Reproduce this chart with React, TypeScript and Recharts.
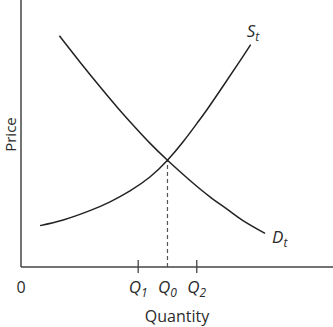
import { Label, Line, LineChart, ReferenceLine, XAxis, YAxis } from 'recharts';

const demandQ = [1.31, 2.01, 2.81, 3.32, 3.83, 4.4, 5.0, 5.77, 6.45, 7.08, 7.59, 8.33];
const demandP = [8.66, 7.68, 6.6, 5.94, 5.31, 4.64, 4.0, 3.24, 2.63, 2.13, 1.73, 1.26];

const supplyQ = [0.65, 1.44, 2.35, 3.04, 3.72, 4.4, 5.0, 5.54, 6.0, 6.34, 6.9, 7.47, 7.84];
const supplyP = [1.55, 1.76, 2.11, 2.44, 2.85, 3.37, 4.0, 4.7, 5.37, 5.88, 6.78, 7.71, 8.33];

const qTicks = [0, 4, 5, 6];
const qTickNames = ['0', 'Q', 'Q', 'Q'];
const qTickSubs = ['', '1', '0', '2'];
const qTickMarks = [false, true, false, true];

const equilibrium = { q: 5.0, p: 4.0 };

const demand = demandQ.map((q, i) => ({ q, p: demandP[i] }));
const supply = supplyQ.map((q, i) => ({ q, p: supplyP[i] }));

const FONT = '"Open Sans", "Liberation Sans", sans-serif';
const INK = '#2b2b2b';

function QuantityTick(props: any) {
  const { x, y, index } = props;
  const name = qTickNames[index];
  const sub = qTickSubs[index];
  return (
    <g>
      {qTickMarks[index] && <line x1={x} x2={x} y1={y - 7} y2={y + 6} stroke="#444" strokeWidth={1.3} />}
      <text
        x={x}
        y={y + 26}
        textAnchor="middle"
        fontFamily={FONT}
        fontSize={sub ? 17 : 16}
        fill={INK}
        fontStyle={sub ? 'italic' : 'normal'}
      >
        {name}
        {sub && (
          <tspan fontSize={12} dy={4}>
            {sub}
          </tspan>
        )}
      </text>
    </g>
  );
}

function curveLabel(data: { q: number; p: number }[], name: string, dx: number, dy: number) {
  return (props: any) => {
    if (props.index !== data.length - 1) return null;
    return (
      <text x={props.x + dx} y={props.y + dy} fontFamily={FONT} fontSize={17} fontStyle="italic" fill={INK}>
        {name}
        <tspan fontSize={12} dy={4}>
          t
        </tspan>
      </text>
    );
  };
}

export default function App() {
  return (
    <div style={{ position: 'fixed', left: 0, top: 0, background: '#fff' }}>
      <LineChart width={333} height={327} margin={{ top: 0, right: 0, bottom: 0, left: 0 }}>
        <XAxis
          type="number"
          dataKey="q"
          domain={[0, 10.65]}
          ticks={qTicks}
          tick={<QuantityTick />}
          tickLine={false}
          tickSize={0}
          tickMargin={0}
          height={60}
          axisLine={{ stroke: '#444', strokeWidth: 1.5 }}
          allowDataOverflow
        >
          <Label
            content={({ viewBox }: any) => (
              <text
                x={viewBox.x + viewBox.width / 2}
                y={viewBox.y + 55}
                textAnchor="middle"
                fontFamily={FONT}
                fontSize={16}
                fill={INK}
              >
                Quantity
              </text>
            )}
          />
        </XAxis>
        <YAxis
          type="number"
          dataKey="p"
          domain={[0, 10]}
          width={21}
          tick={false}
          tickLine={false}
          axisLine={{ stroke: '#444', strokeWidth: 1.5 }}
          allowDataOverflow
        >
          <Label
            content={({ viewBox }: any) => {
              const cx = viewBox.x + 16;
              const cy = viewBox.y + viewBox.height / 2 + 1;
              return (
                <text
                  x={cx}
                  y={cy}
                  textAnchor="middle"
                  transform={`rotate(-90 ${cx} ${cy})`}
                  fontFamily={FONT}
                  fontSize={15}
                  fill={INK}
                >
                  Price
                </text>
              );
            }}
          />
        </YAxis>
        <ReferenceLine
          segment={[
            { x: equilibrium.q, y: 0 },
            { x: equilibrium.q, y: equilibrium.p },
          ]}
          stroke="#555"
          strokeWidth={1.2}
          strokeDasharray="4 3"
        />
        <Line
          data={demand}
          dataKey="p"
          type="natural"
          stroke="#222"
          strokeWidth={1.5}
          dot={false}
          isAnimationActive={false}
          label={curveLabel(demand, 'D', 7, 10)}
        />
        <Line
          data={supply}
          dataKey="p"
          type="natural"
          stroke="#222"
          strokeWidth={1.5}
          dot={false}
          isAnimationActive={false}
          label={curveLabel(supply, 'S', -4, -8)}
        />
      </LineChart>
    </div>
  );
}
